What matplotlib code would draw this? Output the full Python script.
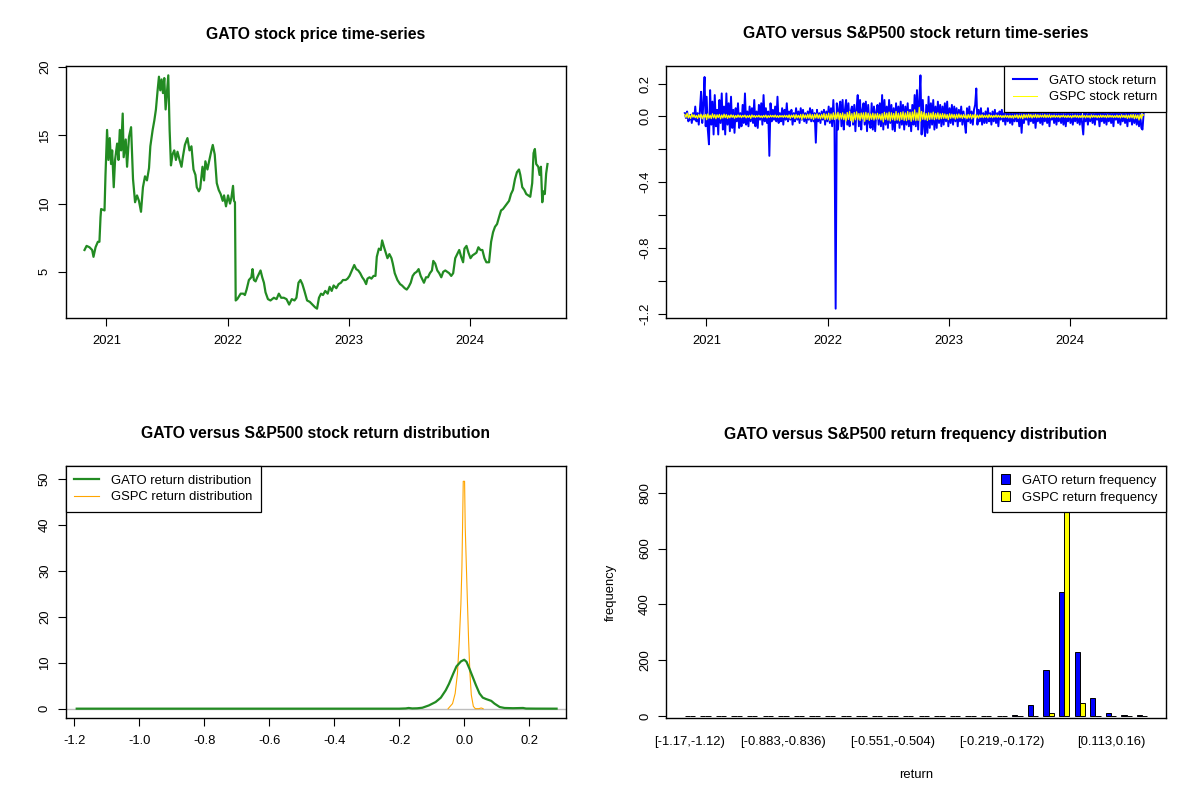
import numpy as np
import pandas as pd
import matplotlib
matplotlib.use('Agg')
import matplotlib.pyplot as plt
from matplotlib.lines import Line2D
from matplotlib.patches import Patch

plt.rcParams['font.family'] = ['Liberation Sans', 'DejaVu Sans']

# ---------------- data ----------------
# GATO closing price (decimal year, USD)
price_year = [
    2020.819, 2020.836, 2020.860, 2020.882, 2020.893, 2020.910, 2020.929, 2020.942, 2020.951, 2020.956,
    2020.984, 2020.992, 2021.005, 2021.016, 2021.027, 2021.038, 2021.047, 2021.060, 2021.071, 2021.088,
    2021.099, 2021.110, 2021.121, 2021.134, 2021.142, 2021.159, 2021.170, 2021.186, 2021.203, 2021.219,
    2021.236, 2021.252, 2021.268, 2021.285, 2021.301, 2021.318, 2021.334, 2021.351, 2021.362, 2021.381,
    2021.395, 2021.408, 2021.422, 2021.433, 2021.444, 2021.455, 2021.466, 2021.477, 2021.488, 2021.499,
    2021.510, 2021.521, 2021.532, 2021.545, 2021.559, 2021.573, 2021.586, 2021.603, 2021.619, 2021.630,
    2021.647, 2021.668, 2021.685, 2021.701, 2021.718, 2021.734, 2021.745, 2021.762, 2021.773, 2021.792,
    2021.805, 2021.816, 2021.833, 2021.849, 2021.866, 2021.877, 2021.893, 2021.910, 2021.926, 2021.942,
    2021.959, 2021.970, 2021.986, 2022.003, 2022.019, 2022.030, 2022.044, 2022.052, 2022.060, 2022.066,
    2022.079, 2022.107, 2022.129, 2022.142, 2022.156, 2022.175, 2022.195, 2022.205, 2022.216, 2022.230,
    2022.244, 2022.260, 2022.271, 2022.285, 2022.299, 2022.312, 2022.332, 2022.353, 2022.381, 2022.403,
    2022.422, 2022.441, 2022.463, 2022.485, 2022.507, 2022.529, 2022.551, 2022.567, 2022.584, 2022.600,
    2022.616, 2022.633, 2022.655, 2022.677, 2022.699, 2022.721, 2022.737, 2022.753, 2022.770, 2022.786,
    2022.805, 2022.825, 2022.841, 2022.858, 2022.874, 2022.896, 2022.915, 2022.934, 2022.951, 2022.973,
    2022.989, 2023.005, 2023.025, 2023.044, 2023.060, 2023.077, 2023.093, 2023.110, 2023.126, 2023.142,
    2023.153, 2023.170, 2023.186, 2023.203, 2023.219, 2023.230, 2023.247, 2023.263, 2023.274, 2023.290,
    2023.307, 2023.318, 2023.334, 2023.351, 2023.362, 2023.378, 2023.400, 2023.422, 2023.438, 2023.460,
    2023.477, 2023.493, 2023.510, 2023.526, 2023.542, 2023.559, 2023.575, 2023.592, 2023.608, 2023.619,
    2023.636, 2023.652, 2023.668, 2023.685, 2023.696, 2023.712, 2023.729, 2023.745, 2023.762, 2023.778,
    2023.795, 2023.811, 2023.827, 2023.844, 2023.860, 2023.877, 2023.893, 2023.910, 2023.926, 2023.942,
    2023.953, 2023.970, 2023.986, 2024.003, 2024.019, 2024.036, 2024.052, 2024.068, 2024.085, 2024.101,
    2024.118, 2024.134, 2024.156, 2024.173, 2024.189, 2024.205, 2024.222, 2024.238, 2024.255, 2024.271,
    2024.288, 2024.304, 2024.321, 2024.337, 2024.353, 2024.370, 2024.386, 2024.403, 2024.414, 2024.430,
    2024.447, 2024.463, 2024.479, 2024.496, 2024.512, 2024.523, 2024.534, 2024.545, 2024.562, 2024.573,
    2024.584, 2024.595, 2024.605, 2024.616, 2024.627, 2024.638,
]
price_value = [
    6.6, 6.9, 6.8, 6.6, 6.1, 6.8, 7.2, 7.2, 9.0, 9.6,
    9.5, 12.1, 15.4, 13.2, 14.8, 12.9, 13.9, 11.2, 13.2, 14.4,
    13.2, 15.4, 13.9, 16.6, 13.4, 14.7, 12.7, 14.9, 15.6, 11.8,
    10.1, 10.6, 10.2, 9.4, 11.2, 12.0, 11.7, 12.6, 14.2, 15.4,
    16.1, 16.9, 18.3, 19.3, 18.3, 19.1, 18.1, 19.2, 16.9, 18.1,
    19.4, 15.4, 12.8, 13.6, 13.9, 13.2, 13.8, 13.2, 12.7, 13.4,
    14.3, 14.8, 13.9, 14.2, 12.5, 12.1, 11.2, 10.9, 11.1, 12.7,
    11.7, 13.1, 12.5, 13.2, 13.9, 14.3, 13.6, 11.5, 11.0, 10.7,
    10.2, 10.6, 9.8, 10.6, 10.0, 10.4, 11.3, 10.2, 10.1, 2.9,
    3.0, 3.4, 3.4, 3.3, 3.7, 4.4, 4.6, 5.2, 4.4, 4.3,
    4.6, 4.9, 5.1, 4.6, 4.2, 3.5, 3.0, 2.9, 3.1, 3.0,
    3.4, 3.1, 3.1, 3.0, 2.6, 3.0, 2.9, 3.1, 4.2, 4.4,
    4.1, 3.6, 2.9, 2.8, 2.6, 2.4, 2.3, 3.1, 3.4, 3.3,
    3.6, 3.4, 3.9, 3.6, 4.0, 3.8, 4.1, 4.2, 4.4, 4.4,
    4.5, 4.7, 5.1, 5.5, 5.2, 5.1, 4.9, 4.6, 4.4, 4.1,
    4.5, 4.6, 4.5, 4.7, 4.7, 6.1, 6.7, 6.6, 7.3, 6.8,
    6.3, 6.0, 6.3, 6.0, 5.6, 4.9, 4.4, 4.1, 4.0, 3.8,
    3.7, 3.9, 4.2, 4.7, 4.9, 5.0, 5.2, 4.7, 4.4, 4.2,
    4.6, 4.6, 4.9, 5.1, 5.8, 5.6, 5.1, 4.9, 4.6, 5.0,
    5.1, 5.0, 4.9, 4.7, 4.9, 6.0, 6.3, 6.6, 6.1, 5.7,
    6.7, 6.9, 6.4, 6.0, 6.2, 6.3, 6.4, 6.8, 6.6, 6.6,
    6.0, 5.7, 5.7, 7.2, 7.9, 8.3, 8.5, 9.0, 9.5, 9.6,
    9.8, 10.0, 10.2, 10.7, 11.0, 11.8, 12.3, 12.5, 12.1, 11.2,
    11.0, 10.7, 10.6, 10.5, 11.5, 13.7, 14.0, 12.9, 12.7, 12.1,
    12.7, 10.1, 10.9, 10.7, 12.2, 12.9,
]

# returns sampled every 3.5 days, starting 2020-10-27
return_start = '2020-10-27'
return_step = '84h'
gato_return = [
    0.02, -0.01, 0.03, -0.03, -0.02, 0.01, -0.04, 0.02, -0.02, 0.06,
    -0.03, 0.02, -0.05, 0.04, 0.15, -0.04, 0.08, 0.24, -0.06, 0.12,
    -0.08, -0.17, 0.16, -0.05, 0.09, -0.11, 0.13, -0.06, 0.04, -0.11,
    0.10, -0.04, 0.14, -0.08, 0.06, -0.11, 0.14, -0.05, 0.08, -0.09,
    0.12, -0.07, 0.04, -0.10, 0.05, -0.03, 0.08, -0.07, 0.02, -0.06,
    0.07, -0.04, 0.14, -0.05, 0.03, -0.06, 0.06, -0.03, 0.05, -0.04,
    0.10, -0.06, 0.03, -0.07, 0.07, -0.02, 0.08, -0.05, 0.13, -0.03,
    0.05, -0.04, 0.03, -0.24, 0.08, -0.03, 0.04, -0.02, 0.06, -0.03,
    0.12, -0.04, 0.02, -0.03, 0.05, -0.05, 0.04, -0.02, 0.08, -0.03,
    0.03, -0.02, 0.04, -0.05, 0.02, -0.03, 0.05, -0.02, 0.03, -0.04,
    0.05, -0.02, 0.04, -0.03, 0.02, -0.04, 0.03, -0.02, 0.05, -0.03,
    0.04, -0.03, 0.02, -0.16, 0.04, -0.03, 0.02, -0.04, 0.03, -0.02,
    0.04, -0.05, 0.03, -0.03, 0.06, -0.04, 0.05, -0.06, 0.10, -0.05,
    -1.17, 0.08, -0.08, 0.05, 0.09, -0.06, 0.10, -0.08, 0.04, 0.10,
    -0.05, 0.08, -0.06, 0.03, 0.06, -0.05, 0.07, -0.09, 0.05, 0.13,
    -0.06, 0.10, -0.08, 0.04, 0.08, -0.05, 0.09, -0.09, 0.07, -0.04,
    -0.07, 0.08, -0.08, 0.06, -0.09, 0.03, 0.07, -0.05, 0.08, -0.06,
    0.13, -0.08, 0.10, -0.05, 0.06, -0.07, 0.10, -0.04, 0.07, -0.08,
    0.05, -0.09, 0.08, -0.04, 0.06, -0.07, 0.09, -0.05, 0.07, -0.08,
    0.06, -0.05, 0.08, -0.06, 0.04, -0.09, 0.07, -0.05, 0.13, -0.06,
    0.16, -0.08, 0.10, 0.25, -0.11, 0.10, -0.06, -0.12, 0.07, -0.10,
    0.12, -0.07, 0.08, -0.05, 0.10, -0.08, 0.06, -0.07, 0.09, -0.04,
    0.07, -0.06, 0.06, -0.05, 0.08, -0.03, 0.09, -0.06, 0.05, -0.04,
    0.07, -0.05, 0.06, -0.03, 0.05, -0.06, 0.04, -0.03, 0.06, -0.05,
    0.03, -0.04, -0.10, 0.05, -0.03, 0.06, -0.04, 0.03, -0.05, 0.04,
    0.07, 0.17, -0.05, 0.04, -0.03, 0.05, -0.05, 0.02, -0.04, 0.03,
    -0.04, 0.05, -0.03, 0.02, -0.05, 0.03, -0.03, 0.04, -0.04, 0.02,
    -0.06, 0.03, -0.02, 0.04, -0.03, 0.02, -0.05, 0.03, -0.03, 0.02,
    -0.04, 0.03, -0.05, 0.02, -0.03, 0.04, -0.03, 0.02, -0.06, 0.03,
    -0.10, 0.02, -0.04, 0.03, -0.02, 0.02, -0.05, 0.03, -0.03, 0.02,
    -0.04, 0.03, -0.07, 0.02, -0.03, 0.03, -0.04, 0.02, -0.05, 0.02,
    -0.03, 0.03, -0.04, 0.02, -0.06, 0.03, -0.02, 0.02, -0.04, 0.03,
    -0.05, 0.02, -0.03, 0.03, -0.04, 0.02, -0.05, 0.03, -0.06, 0.02,
    -0.03, 0.03, -0.04, 0.02, -0.05, 0.02, -0.03, 0.03, -0.04, 0.02,
    -0.05, 0.03, -0.04, -0.11, 0.03, -0.03, 0.02, -0.05, 0.02, -0.03,
    0.03, -0.04, 0.02, -0.05, 0.03, -0.02, 0.02, -0.06, 0.03, -0.03,
    0.02, -0.04, 0.03, -0.05, 0.02, -0.03, 0.03, -0.04, 0.02, -0.06,
    0.03, -0.02, 0.02, -0.04, 0.03, -0.05, 0.02, -0.03, 0.03, -0.04,
    0.02, -0.06, 0.03, -0.03, 0.02, -0.05, 0.03, -0.04, 0.02, -0.05,
    0.03, -0.06, 0.02, -0.07, -0.08, 0.02,
]
gspc_return = [
    0.012, -0.006, 0.02, -0.01, 0.008, -0.012, 0.015, -0.005, 0.01, -0.008,
    0.006, -0.012, 0.011, -0.007, 0.013, -0.015, 0.009, -0.006, 0.012, -0.02,
    0.015, -0.011, 0.008, -0.013, 0.016, -0.009, 0.011, -0.014, 0.01, -0.007,
    0.012, -0.015, 0.009, -0.01, 0.014, -0.008, 0.011, -0.012, 0.007, -0.009,
    0.01, -0.006, 0.008, -0.011, 0.006, -0.007, 0.009, -0.005, 0.007, -0.008,
    0.006, -0.004, 0.008, -0.009, 0.005, -0.006, 0.007, -0.012, 0.009, -0.005,
    0.006, -0.007, 0.005, -0.004, 0.007, -0.006, 0.004, -0.008, 0.006, -0.005,
    0.008, -0.009, 0.005, -0.006, 0.007, -0.004, 0.006, -0.005, 0.008, -0.006,
    0.005, -0.007, 0.006, -0.004, 0.005, -0.006, 0.007, -0.005, 0.006, -0.008,
    0.009, -0.012, 0.008, -0.006, 0.01, -0.013, 0.011, -0.009, 0.007, -0.01,
    0.012, -0.019, 0.014, -0.01, 0.009, -0.012, 0.013, -0.011, 0.015, -0.014,
    0.011, -0.018, 0.013, -0.01, 0.016, -0.012, 0.01, -0.015, 0.012, -0.011,
    0.018, -0.02, 0.014, -0.017, 0.02, -0.024, 0.015, -0.018, 0.022, -0.019,
    0.02, -0.015, 0.025, -0.021, 0.018, -0.016, 0.022, -0.02, 0.014, -0.028,
    0.024, -0.019, 0.03, -0.026, 0.017, -0.035, 0.024, -0.021, 0.028, -0.02,
    0.018, -0.025, 0.021, -0.016, 0.022, -0.03, 0.025, -0.019, 0.02, -0.024,
    0.015, -0.018, 0.02, -0.022, 0.016, -0.017, 0.019, -0.016, 0.013, -0.022,
    0.017, -0.034, 0.025, -0.018, 0.02, -0.023, 0.026, -0.028, 0.022, -0.02,
    0.018, -0.025, 0.03, -0.022, 0.02, -0.027, 0.024, -0.019, 0.028, -0.024,
    0.021, -0.026, 0.03, -0.02, 0.025, -0.03, 0.027, -0.022, 0.04, -0.026,
    0.022, -0.024, 0.055, -0.028, 0.03, -0.018, 0.025, -0.02, 0.018, -0.025,
    0.022, -0.019, 0.02, -0.017, 0.026, -0.02, 0.018, -0.015, 0.022, -0.018,
    0.016, -0.014, 0.018, -0.012, 0.015, -0.013, 0.012, -0.02, 0.016, -0.012,
    0.014, -0.01, 0.012, -0.016, 0.013, -0.011, 0.015, -0.009, 0.01, -0.012,
    0.011, -0.008, 0.009, -0.014, 0.012, -0.01, 0.013, -0.015, 0.01, -0.008,
    0.012, -0.009, 0.008, -0.011, 0.009, -0.007, 0.01, -0.008, 0.007, -0.006,
    0.008, -0.009, 0.011, -0.006, 0.007, -0.008, 0.006, -0.005, 0.009, -0.006,
    0.007, -0.005, 0.006, -0.008, 0.005, -0.007, 0.008, -0.006, 0.006, -0.009,
    0.007, -0.009, 0.006, -0.011, 0.008, -0.007, 0.01, -0.012, 0.008, -0.01,
    0.009, -0.014, 0.012, -0.008, 0.01, -0.009, 0.013, -0.007, 0.011, -0.01,
    0.009, -0.006, 0.012, -0.008, 0.01, -0.007, 0.009, -0.005, 0.008, -0.006,
    0.011, -0.007, 0.009, -0.006, 0.01, -0.008, 0.007, -0.005, 0.008, -0.006,
    0.006, -0.005, 0.007, -0.008, 0.006, -0.004, 0.008, -0.006, 0.005, -0.007,
    0.007, -0.006, 0.005, -0.009, 0.006, -0.005, 0.008, -0.006, 0.007, -0.008,
    0.006, -0.007, 0.008, -0.005, 0.006, -0.009, 0.007, -0.006, 0.005, -0.01,
    0.009, -0.006, 0.007, -0.005, 0.006, -0.008, 0.006, -0.007, 0.008, -0.006,
    0.007, -0.005, 0.006, -0.008, 0.009, -0.006, 0.007, -0.005, 0.006, -0.007,
    0.005, -0.006, 0.008, -0.007, 0.006, -0.009, 0.01, -0.006, 0.007, -0.008,
    0.009, -0.012, 0.008, -0.01, 0.011, -0.009, 0.012, -0.014, 0.01, -0.012,
    0.009, -0.022, 0.011, -0.015, 0.012, 0.008,
]

# kernel density curves (return, density)
gato_dens_x = [-1.192, -1.0, -0.8, -0.6, -0.4, -0.25, -0.2, -0.18, -0.171, -0.16,
               -0.145, -0.129, -0.109, -0.088, -0.072, -0.057, -0.047, -0.034, -0.024, -0.010,
               0.0, 0.007, 0.016, 0.026, 0.036, 0.047, 0.057, 0.067, 0.083, 0.093,
               0.109, 0.124, 0.15, 0.181, 0.19, 0.22, 0.284]
gato_dens_y = [0.0, 0.0, 0.0, 0.0, 0.0, 0.0, 0.0, 0.05, 0.15, 0.05,
               0.08, 0.2, 0.7, 1.45, 2.4, 4.0, 5.4, 7.6, 9.2, 10.3,
               10.65, 10.2, 8.7, 6.9, 5.1, 3.3, 2.4, 2.1, 1.7, 1.1,
               0.36, 0.15, 0.1, 0.15, 0.03, 0.01, 0.0]
gspc_dens_x = [-0.0496, -0.036, -0.028, -0.021, -0.0155, -0.0103, -0.0072, -0.0052, -0.0031, 0.001,
               0.003, 0.0072, 0.0103, 0.0134, 0.0176, 0.0217, 0.028, 0.034, 0.045, 0.052, 0.058]
gspc_dens_y = [0.0, 1.1, 3.3, 7.6, 14.5, 22.8, 30.8, 39.5, 49.5, 49.5,
               39.5, 29.3, 22.0, 14.8, 7.5, 3.0, 0.5, 0.0, 0.0, 0.15, 0.0]
density_range = (-1.168, 0.256)   # range of the returns, used as xlim
density_ymax = 50.8

# return frequency, 30 bins from -1.17 to 0.256
gato_freq = [1, 0, 0, 0, 0, 0, 0, 0, 0, 0,
             0, 0, 0, 0, 0, 0, 0, 0, 0, 1,
             0, 2, 38, 165, 445, 230, 65, 12, 2, 2]
gspc_freq = [0, 0, 0, 0, 0, 0, 0, 0, 0, 0,
             0, 0, 0, 0, 0, 0, 0, 0, 0, 0,
             0, 0, 0, 12, 890, 47, 0, 0, 0, 0]
bin_label_idx = [0, 6, 13, 20, 27]
bin_labels = ['[-1.17,-1.12)', '[-0.883,-0.836)', '[-0.551,-0.504)',
              '[-0.219,-0.172)', '[0.113,0.16)']

year_ticks = [2021, 2022, 2023, 2024]
ret_ticks = [-1.2, -1.0, -0.8, -0.6, -0.4, -0.2, 0.0, 0.2]
ret_tick_labels = ['-1.2', '', '-0.8', '', '-0.4', '', '0.0', '0.2']


# ---------------- helpers ----------------
W, H = 1200, 800
TICK = 9.4
TITLE = 11.3


def r_lim(lo, hi):
    """R style axis range: data range padded by 4% on each side."""
    pad = 0.04 * (hi - lo)
    return lo - pad, hi + pad


def to_year(dates):
    return np.array([d.year + (d.dayofyear - 1 + d.hour / 24) / 365.25 for d in dates])


def panel(fig, x0, y0, title):
    # plot box of 500 x 252 px with its top left corner at (x0, y0)
    ax = fig.add_axes([x0 / W, 1 - (y0 + 252) / H, 500 / W, 252 / H])
    for s in ax.spines.values():
        s.set_linewidth(1.0)
        s.set_color('black')
    ax.tick_params(length=5.8, width=0.8, labelsize=TICK, color='black')
    ax.tick_params(axis='x', pad=6.8)
    ax.tick_params(axis='y', pad=5.0)
    fig.text((x0 + 250) / W, 1 - (y0 - 32) / H, title, ha='center', va='center',
             fontsize=TITLE, fontweight='bold')
    return ax


def set_yticks(ax, ticks, labels):
    ax.set_yticks(ticks)
    ax.set_yticklabels(labels, rotation=90, va='center')


def r_legend(ax, handles, labels, loc, **kw):
    leg = ax.legend(handles, labels, loc=loc, fontsize=TICK, frameon=True, fancybox=False,
                    edgecolor='black', framealpha=1, borderaxespad=0, borderpad=0.65,
                    labelspacing=0.35, handletextpad=0.9, **kw)
    leg.get_frame().set_linewidth(0.9)
    return leg


fig = plt.figure(figsize=(12, 8), dpi=100)

# ---- price time-series ----
ax1 = panel(fig, 66, 66, 'GATO stock price time-series')
ax1.plot(price_year, price_value, color='forestgreen', lw=1.6)
ax1.set_xlim(*r_lim(min(price_year), max(price_year)))
ax1.set_ylim(*r_lim(min(price_value), max(price_value)))
ax1.set_xticks(year_ticks)
ax1.set_xticklabels([str(y) for y in year_ticks])
set_yticks(ax1, [5, 10, 15, 20], ['5', '10', '15', '20'])

# ---- return time-series ----
ax2 = panel(fig, 666, 66, 'GATO versus S&P500 stock return time-series')
gato_x = to_year(pd.date_range(return_start, periods=len(gato_return), freq=return_step))
gspc_x = to_year(pd.date_range(return_start, periods=len(gspc_return), freq=return_step))
ax2.plot(gato_x, gato_return, color='blue', lw=1.4)
ax2.plot(gspc_x, gspc_return, color='yellow', lw=0.9)
ax2.set_xlim(*r_lim(min(price_year), max(price_year)))
ax2.set_ylim(*r_lim(min(gato_return), max(gato_return)))
ax2.set_xticks(year_ticks)
ax2.set_xticklabels([str(y) for y in year_ticks])
set_yticks(ax2, ret_ticks, ret_tick_labels)
r_legend(ax2, [Line2D([], [], color='blue', lw=1.5), Line2D([], [], color='yellow', lw=0.75)],
         ['GATO stock return', 'GSPC stock return'], 'upper right', handlelength=1.9)

# ---- return distribution ----
ax3 = panel(fig, 66, 466, 'GATO versus S&P500 stock return distribution')
ax3.axhline(0, color='#BEBEBE', lw=1.0, zorder=1)
ax3.plot(gato_dens_x, gato_dens_y, color='forestgreen', lw=1.6, zorder=3)
ax3.plot(gspc_dens_x, gspc_dens_y, color='orange', lw=0.8, zorder=2)
ax3.set_xlim(*r_lim(*density_range))
ax3.set_ylim(*r_lim(0, density_ymax))
dens_xt = [-1.2, -1.0, -0.8, -0.6, -0.4, -0.2, 0.0, 0.2]
ax3.set_xticks(dens_xt)
ax3.set_xticklabels([f'{v:.1f}' for v in dens_xt])
set_yticks(ax3, [0, 10, 20, 30, 40, 50], ['0', '10', '20', '30', '40', '50'])
r_legend(ax3, [Line2D([], [], color='forestgreen', lw=1.6), Line2D([], [], color='orange', lw=0.8)],
         ['GATO return distribution', 'GSPC return distribution'], 'upper left', handlelength=1.9)

# ---- return frequency barplot ----
ax4 = panel(fig, 666, 466, 'GATO versus S&P500 return frequency distribution')
n_bins = len(gato_freq)
group_left = 1 + 3 * np.arange(n_bins)
ax4.bar(group_left, gato_freq, width=1, align='edge', color='blue', edgecolor='black', lw=0.7)
ax4.bar(group_left + 1, gspc_freq, width=1, align='edge', color='yellow', edgecolor='black', lw=0.7)
ax4.set_xlim(*r_lim(1, 3 * n_bins))
ax4.set_ylim(-7, 896)
ax4.set_xticks([group_left[i] + 1 for i in bin_label_idx])
ax4.set_xticklabels(bin_labels)
ax4.tick_params(axis='x', length=0, pad=6.8 + 5.8)
set_yticks(ax4, [0, 200, 400, 600, 800], ['0', '200', '400', '600', '800'])
fig.text(916 / W, 1 - 775 / H, 'return', ha='center', va='center', fontsize=TICK)
fig.text(611 / W, 1 - 592 / H, 'frequency', ha='center', va='center', fontsize=TICK, rotation=90)
r_legend(ax4, [Patch(facecolor='blue', edgecolor='black', lw=0.7),
               Patch(facecolor='yellow', edgecolor='black', lw=0.7)],
         ['GATO return frequency', 'GSPC return frequency'], 'upper right',
         handlelength=0.75, handleheight=0.75)

fig.savefig('out.png', dpi=100, facecolor='white')
